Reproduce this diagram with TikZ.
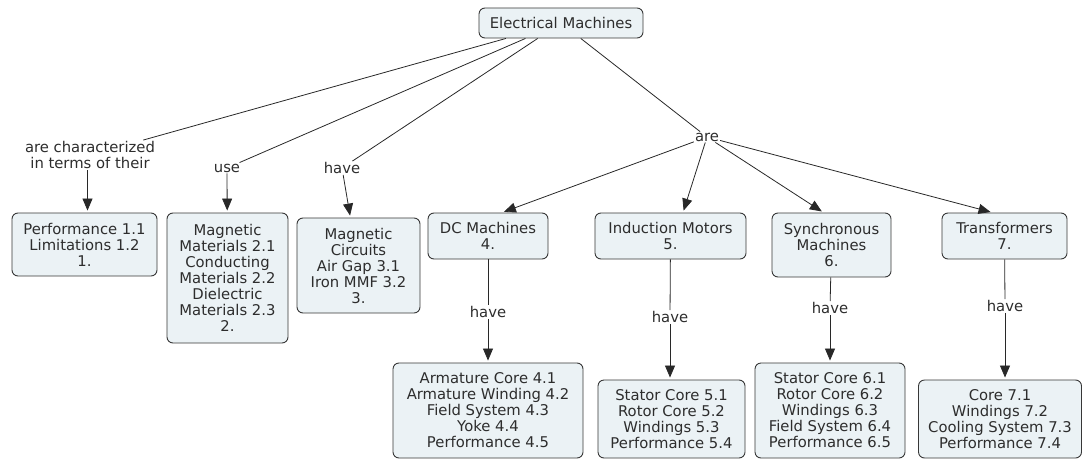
\documentclass[tikz,border=0pt]{standalone}
\usepackage{fontspec}
\setmainfont{DejaVu Sans}
\usetikzlibrary{arrows.meta}
\definecolor{boxfill}{RGB}{235,242,245}
\definecolor{boxline}{RGB}{55,55,55}
\definecolor{lineclr}{RGB}{40,40,40}
\definecolor{txt}{RGB}{45,45,45}
\begin{document}
\begin{tikzpicture}[x=1pt,y=-1pt,
  concept/.style={draw=boxline, fill=boxfill, rounded corners=6pt, line width=0.9pt,
    align=center, inner sep=0pt, text=txt, font=\fontsize{14.8}{16}\selectfont},
  linkphrase/.style={align=center, inner sep=1pt, text=txt, font=\fontsize{14.8}{16}\selectfont},
  conn/.style={draw=lineclr, line width=0.8pt},
  arr/.style={conn, -{Triangle[width=10pt,length=12pt]}, shorten >=2pt}]
\useasboundingbox (0,0) rectangle (1083,460);

% concepts
\node[concept, minimum width=164pt, minimum height=30pt] (root) at (561,23) {Electrical Machines};
\node[concept, minimum width=145pt, minimum height=63pt] (b1) at (84.5,244.5) {Performance 1.1\\Limitations 1.2\\1.};
\node[concept, minimum width=121pt, minimum height=130pt] (b2) at (227.5,278) {Magnetic\\Materials 2.1\\Conducting\\Materials 2.2\\Dielectric\\Materials 2.3\\2.};
\node[concept, minimum width=123pt, minimum height=95pt] (b3) at (358.5,265.5) {Magnetic\\Circuits\\Air Gap 3.1\\Iron MMF 3.2\\3.};
\node[concept, minimum width=120pt, minimum height=46pt] (b4) at (488,236) {DC Machines\\4.};
\node[concept, minimum width=151pt, minimum height=46pt] (b5) at (670.5,236) {Induction Motors\\5.};
\node[concept, minimum width=119pt, minimum height=64pt] (b6) at (831.5,245) {Synchronous\\Machines\\6.};
\node[concept, minimum width=125pt, minimum height=46pt] (b7) at (1004.5,236) {Transformers\\7.};
\node[concept, minimum width=190pt, minimum height=95pt] (c4) at (488,410.5) {Armature Core 4.1\\Armature Winding 4.2\\Field System 4.3\\Yoke 4.4\\Performance 4.5};
\node[concept, minimum width=147pt, minimum height=78pt] (c5) at (671.5,419) {Stator Core 5.1\\Rotor Core 5.2\\Windings 5.3\\Performance 5.4};
\node[concept, minimum width=150pt, minimum height=95pt] (c6) at (830,410.5) {Stator Core 6.1\\Rotor Core 6.2\\Windings 6.3\\Field System 6.4\\Performance 6.5};
\node[concept, minimum width=163pt, minimum height=78pt] (c7) at (1000,419) {Core 7.1\\Windings 7.2\\Cooling System 7.3\\Performance 7.4};

% linking phrases
\node[linkphrase] (l1) at (90,155) {are characterized\\in terms of their};
\node[linkphrase] (l2) at (227,168) {use};
\node[linkphrase] (l3) at (342,168) {have};
\node[linkphrase] (lare) at (707,137) {are};
\node[linkphrase] (h4) at (488,312) {have};
\node[linkphrase] (h5) at (670,317) {have};
\node[linkphrase] (h6) at (830,308) {have};
\node[linkphrase] (h7) at (1005,306) {have};

% connectors
\draw[conn] (root) -- (l1);
\draw[conn] (root) -- (l2);
\draw[conn] (root) -- (l3);
\draw[conn] (root) -- (lare);
\draw[arr] (l1.south -| b1) ++(3,0) coordinate (t1) -- (t1 |- b1.north);
\draw[arr] (l2) -- (b2);
\draw[arr] (l3) -- (b3);
\draw[arr] (lare) -- ([xshift=14pt]b4.north);
\draw[arr] (lare) -- ([xshift=12.5pt]b5.north);
\draw[arr] (lare) -- ([xshift=-8pt]b6.north);
\draw[arr] (lare) -- ([xshift=-12pt]b7.north);
\draw[conn] (b4) -- (h4);
\draw[conn] (b5) -- (h5);
\draw[conn] (b6) -- (h6);
\draw[conn] (b7) -- (h7);
\draw[arr] (h4) -- (c4);
\draw[arr] (h5) -- (h5 |- c5.north);
\draw[arr] (h6) -- (c6);
\draw[arr] (h7) -- (h7 |- c7.north);
\end{tikzpicture}
\end{document}
